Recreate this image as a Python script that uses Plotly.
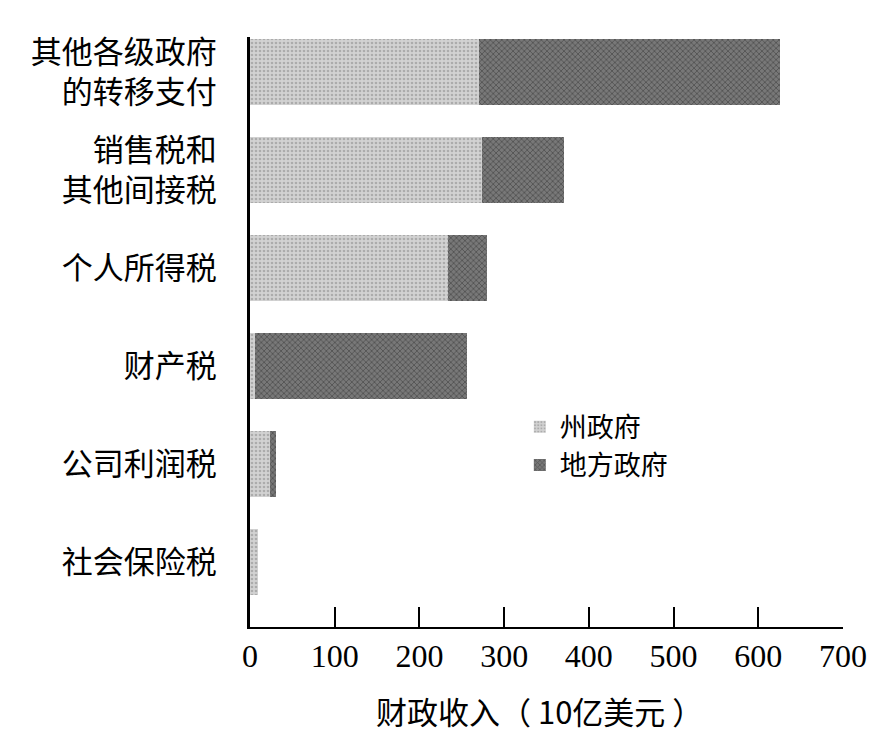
import plotly.graph_objects as go

# Revenue sources, listed bottom to top (10 亿美元)
categories = ['社会保险税', '公司利润税', '财产税', '个人所得税', '销售税和<br>其他间接税', '其他各级政府<br>的转移支付']
state_values = [9, 24, 6, 234, 274, 270]
local_values = [0, 7, 250, 46, 97, 356]
x_ticks = [0, 100, 200, 300, 400, 500, 600, 700]

cjk_font = 'Noto Sans CJK SC'
num_font = 'Liberation Serif'

fig = go.Figure()

fig.add_trace(go.Bar(
    y=categories,
    x=state_values,
    orientation='h',
    name='州政府',
    marker=dict(
        color='#cbcbcb',
        line=dict(width=0),
        pattern=dict(shape='.', fgcolor='#858585', bgcolor='#d2d2d2', size=4, solidity=0.35),
    ),
))

fig.add_trace(go.Bar(
    y=categories,
    x=local_values,
    orientation='h',
    name='地方政府',
    marker=dict(
        color='#5a5a5a',
        line=dict(width=0),
        pattern=dict(shape='x', fgcolor='#2e2e2e', bgcolor='#787878', size=4, solidity=0.4),
    ),
))

# the page body adds an 8px offset, so margins are trimmed on the left/top
fig.update_layout(
    barmode='stack',
    bargap=0.33,
    width=885,
    height=741,
    paper_bgcolor='white',
    plot_bgcolor='white',
    margin=dict(l=242, r=50, t=29, b=122),
    font=dict(family=cjk_font, color='black'),
    legend=dict(
        x=0.455, y=0.38,
        xanchor='left', yanchor='top',
        font=dict(family=cjk_font, size=27, color='black'),
        bgcolor='rgba(0,0,0,0)',
        traceorder='normal',
    ),
    annotations=[dict(
        text='财政收入（ 10亿美元 ）',
        xref='paper', yref='paper',
        x=0.489, y=-0.141,
        xanchor='center', yanchor='middle',
        showarrow=False,
        font=dict(family=cjk_font, size=31, color='black'),
    )],
)

fig.update_xaxes(
    range=[0, 700],
    tickvals=x_ticks,
    ticks='inside',
    ticklen=20,
    tickwidth=2,
    tickcolor='black',
    showline=True,
    linecolor='black',
    linewidth=2,
    showgrid=False,
    zeroline=False,
    tickfont=dict(family=num_font, size=32, color='black'),
)

fig.update_yaxes(
    range=[-0.66, 5.36],
    showline=True,
    linecolor='black',
    linewidth=3,
    showgrid=False,
    zeroline=False,
    ticks='',
    ticklabelstandoff=24,
    tickfont=dict(family=cjk_font, size=31, color='black'),
)

fig.write_html('out.html')
